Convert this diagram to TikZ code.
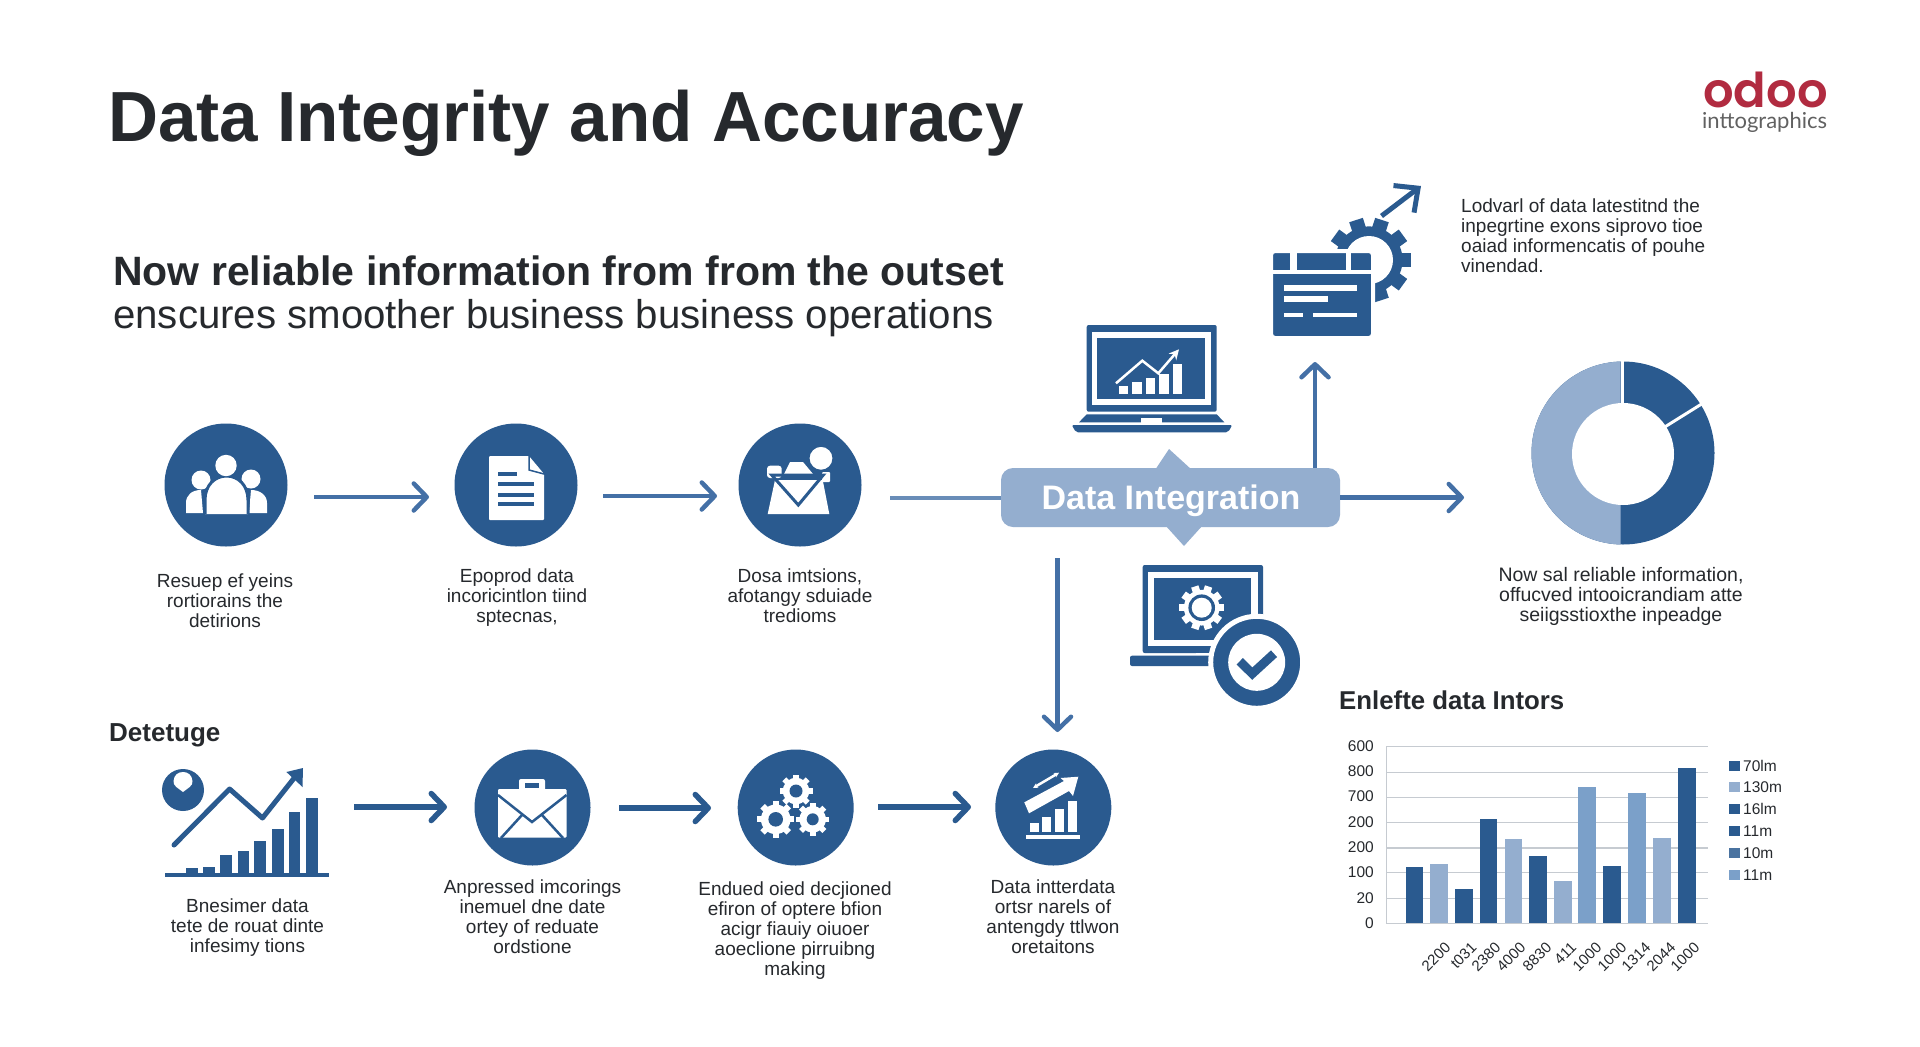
\documentclass[tikz,border=0pt]{standalone}
\usepackage{fontspec}
\setmainfont{Liberation Sans}
\newfontfamily\titlefont{Liberation Sans}[FakeStretch=0.975]
\newfontfamily\logofont{Poppins SemiBold}
\newfontfamily\subfont{Lato}
\usetikzlibrary{arrows.meta}

\definecolor{navyblue}{HTML}{2A5A8F}
\definecolor{lineblue}{HTML}{4470A6}
\definecolor{paleblue}{HTML}{94AECF}
\definecolor{midblue}{HTML}{7BA0C9}
\definecolor{inkgrey}{HTML}{26292D}
\definecolor{gridgrey}{HTML}{C6CBD1}
\definecolor{logored}{HTML}{B12B40}

\newcommand{\fsize}[1]{\fontsize{#1}{20}\selectfont}

% x, y, radius, hole radius, teeth, colour, hole colour
\newcommand{\cogwheel}[7]{
  \fill[#6] (#1,#2) circle ({0.8*#3});
  \foreach \a in {1,...,#5}
    \fill[#6,shift={(#1,#2)},rotate={\a*360/#5}]
      ({0.7*#3},{-0.17*#3}) rectangle (#3,{0.17*#3});
  \fill[#7] (#1,#2) circle (#4);
}

\tikzset{
  stepdisc/.style={circle,fill=navyblue,inner sep=0pt},
  steptext/.style={align=center,anchor=base,inner sep=0pt,text=inkgrey,font=\fsize{19}},
  flowlight/.style={draw=lineblue,line width=4.5pt,-{Straight Barb[length=13pt,width=27pt,line width=4.5pt,round]}},
  flowdark/.style={draw=navyblue,line width=5.5pt,-{Straight Barb[length=13pt,width=27pt,line width=5.5pt,round]}},
}

\begin{document}
\begin{tikzpicture}[x=1pt,y=-1pt]
  \fill[white] (0,0) rectangle (1920,1047);
  \useasboundingbox (0,0) rectangle (1920,1047);

  % headings
  \node[anchor=base west,inner sep=0pt,text=inkgrey,font=\titlefont\fsize{71}\bfseries] (title) at (108,141) {Data Integrity and Accuracy};
  \node[anchor=base west,inner sep=0pt,text=inkgrey,font=\fsize{41}\bfseries] (lead1) at (113,285) {Now reliable information from from the outset};
  \node[anchor=base west,inner sep=0pt,text=inkgrey,font=\fsize{40.2}] (lead2) at (113,328) {enscures smoother business business operations};
  \node[anchor=base west,inner sep=0pt,text=inkgrey,font=\fsize{26}\bfseries] (head2) at (109,741) {Detetuge};
  \node[anchor=base west,inner sep=0pt,text=inkgrey,font=\fsize{25.8}\bfseries] (head3) at (1339,709) {Enlefte data Intors};

  % logo
  \node[anchor=base west,inner sep=0pt,text=logored,font=\logofont\fsize{48}] (logo) at (1703,107) {odoo};
  \node[anchor=base west,inner sep=0pt,text=black!62,font=\subfont\fsize{22}] (logosub) at (1702,128) {inttographics};

  % steps
  \begin{scope}[every node/.style={stepdisc,minimum size=123pt}]
    \node (people) at (226,485) {};
    \node (paper)  at (516,485) {};
    \node (inbox)  at (800,485) {};
  \end{scope}
  \begin{scope}[every node/.style={stepdisc,minimum size=116pt}]
    \node (mail)  at (532.5,807.5) {};
    \node (gears) at (795.7,807.5) {};
    \node (trend) at (1053.3,807.5) {};
  \end{scope}

  % central box
  \fill[paleblue] (1155,470) -- (1169,449) -- (1192,470) -- cycle;
  \fill[paleblue] (1165,525) -- (1184,546) -- (1203,525) -- cycle;
  \node[fill=paleblue,rounded corners=12pt,minimum width=339pt,minimum height=59pt,inner sep=0pt] (hub) at (1170.5,497.5) {};
  \node[anchor=base,inner sep=0pt,text=white,font=\fsize{34}\bfseries] (hubtext) at (1171,509) {Data Integration};

  % arrow ends
  \coordinate (a1s) at (314,497);   \coordinate (a1e) at (429,497);
  \coordinate (a2s) at (603,496);   \coordinate (a2e) at (717,496);
  \coordinate (a3s) at (890,497.5);
  \coordinate (a4e) at (1464,497.5);
  \coordinate (a5s) at (1315,468);  \coordinate (a5e) at (1315,362);
  \coordinate (a6s) at (1057.5,558);\coordinate (a6e) at (1057.5,732);
  \coordinate (b1s) at (354,807);   \coordinate (b1e) at (447,807);
  \coordinate (b2s) at (619,808);   \coordinate (b2e) at (711,808);
  \coordinate (b3s) at (878,807);   \coordinate (b3e) at (971,807);

  \begin{scope}[every edge/.style={flowlight}]
    \path (a1s) edge (a1e);
    \path (a2s) edge (a2e);
    \path (hub.east) edge (a4e);
    \path (a5s) edge (a5e);
    \path (a6s) edge (a6e);
  \end{scope}
  \draw[lineblue!80,line width=4pt] (a3s) -- (hub.west);
  \begin{scope}[every edge/.style={flowdark}]
    \path (b1s) edge (b1e);
    \path (b2s) edge (b2e);
    \path (b3s) edge (b3e);
  \end{scope}

  % people icon
  \fill[white] (186,513) -- (186,503) .. controls (186,495) and (192,490) .. (201,490) -- (203,513) -- cycle;
  \fill[white] (267,513) -- (267,503) .. controls (267,495) and (260,490) .. (251,490) -- (249,513) -- cycle;
  \fill[white] (201,480) circle (9.5);
  \fill[white] (251,479) circle (9.5);
  \filldraw[fill=white,draw=navyblue,line width=3pt] (205,514) -- (205,500) .. controls (205,485) and (215,476) .. (226.5,476) .. controls (238,476) and (248,485) .. (248,500) -- (248,514);
  \fill[white] (226,465.5) circle (10.7);

  % paper icon
  \fill[white,rounded corners=1pt] (489,456) -- (529,456) -- (544,474) -- (544,520) -- (489,520) -- cycle;
  \draw[navyblue,line width=1.5pt] (529,456) -- (529,470) -- (544,474);
  \foreach \ly/\lx in {474/517,484/534,494.5/534,504/534}
    \fill[navyblue] (498,\ly-2) rectangle (\lx,\ly+2);

  % inbox icon
  \fill[white,rounded corners=3pt] (767,465.7) rectangle (781.7,478);
  \fill[white] (783,476) -- (790,462) -- (803,462) -- (813,474) -- cycle;
  \fill[white,rounded corners=1pt] (822,472) rectangle (830,482);
  \fill[white] (767.7,514) -- (775,480) -- (822.7,480) -- (829.3,514) -- cycle;
  \draw[navyblue,line width=3pt,line join=miter] (771.7,475) -- (823.3,475) -- (798.3,505) -- cycle;
  \fill[white,draw=navyblue,line width=2pt] (821,458.3) circle (12.5);

  % envelope icon
  \fill[white,rounded corners=2pt] (519,779) rectangle (545,794);
  \fill[navyblue] (525,783) rectangle (539,788);
  \fill[navyblue] (524,790) rectangle (540,793);
  \fill[white,rounded corners=1pt] (498,789) rectangle (566.5,837.5);
  \draw[navyblue,line width=2.5pt] (498,795) -- (532,822) -- (566.5,795);
  \draw[navyblue,line width=2.5pt] (501,838) -- (522,815);
  \draw[navyblue,line width=2.5pt] (563,838) -- (542,815);

  % three gears icon
  \cogwheel{796}{791}{16.5}{6.5}{8}{white}{navyblue}
  \cogwheel{775.7}{819.3}{18.5}{7.3}{8}{white}{navyblue}
  \cogwheel{812.7}{819.3}{16.5}{6}{8}{white}{navyblue}

  % trend icon
  \foreach \bx/\by in {1030/822.7,1042.3/816.7,1055/808.7,1067.7/800.7}
    \fill[white] (\bx,\by) rectangle (\bx+9,831.7);
  \fill[white] (1026,835) rectangle (1080,839);
  \fill[white] (1024.3,802.3) -- (1064,781) -- (1060.5,778) -- (1078.3,776.7) -- (1073,796) -- (1069,791) -- (1029,813.3) -- cycle;
  \draw[white,line width=2.5pt,{Stealth[length=5pt,width=5pt]}-{Stealth[length=5pt,width=5pt]}] (1033,788) -- (1059,772.7);

  % left chart icon
  \fill[navyblue] (165,873) rectangle (328.6,876.5);
  \foreach \bx/\by in {186/867.7,203/866.7,220/854.7,237.5/851,254/841,272/829,288.6/812,306/798}
    \fill[navyblue] (\bx,\by) rectangle (\bx+11.5,874);
  \draw[navyblue,line width=5pt,line cap=round,line join=round] (174,845) -- (229.6,789) -- (262.5,818) -- (295,777);
  \fill[navyblue] (303,768) -- (286.4,772) -- (302.5,787) -- cycle;
  \fill[navyblue] (183,790) circle (21);
  \fill[white] (183,792) .. controls (178,788) and (173,786) .. (173.5,781) .. controls (174,775) and (178,772) .. (183,772) .. controls (188,772) and (192,775) .. (192.5,781) .. controls (193,786) and (188,788) .. (183,792) -- cycle;

  % upper laptop
  \fill[navyblue,rounded corners=2pt] (1086.7,325) rectangle (1216.7,411.7);
  \fill[white] (1092,331.7) rectangle (1211,405);
  \fill[navyblue] (1097.3,337.7) rectangle (1205.3,399);
  \foreach \bx/\bw/\by in {1119/8.7/386.3,1132.3/9.4/381.7,1146/9/377.7,1159.3/9.4/374,1173/8.7/364.3}
    \fill[white] (\bx,\by) rectangle (\bx+\bw,394.3);
  \draw[white,line width=2.5pt,-{Stealth[length=10pt,width=10pt]}] (1116,383.3) -- (1142.3,360.7) -- (1158.3,373.3) -- (1179,349.3);
  \fill[navyblue] (1086.7,414.3) -- (1216.7,414.3) -- (1224.3,422.3) -- (1079,422.3) -- cycle;
  \fill[navyblue,rounded corners=2pt] (1071.7,425) -- (1232.3,425) -- (1228,432.3) -- (1076,432.3) -- cycle;
  \fill[white] (1140.7,418.3) rectangle (1162,423.3);

  % window and gear icon
  \cogwheel{1369}{260}{42}{24}{10}{navyblue}{white}
  \filldraw[fill=navyblue,draw=white,line width=4pt,rounded corners=4pt] (1271,251) rectangle (1373,338);
  \fill[white] (1273,270) rectangle (1371,274);
  \fill[white] (1290,253) rectangle (1297,270);
  \fill[white] (1346,253) rectangle (1351,270);
  \fill[white] (1284,285) rectangle (1357,291);
  \fill[white] (1284,296) rectangle (1328,302);
  \fill[white] (1284,312.5) rectangle (1303,317);
  \fill[white] (1312.5,312.5) rectangle (1357,317);
  \coordinate (g1s) at (1381.5,216);
  \coordinate (g1e) at (1421,186);
  \path (g1s) edge[draw=navyblue,line width=5pt,-{Straight Barb[length=18pt,width=34pt,line width=5pt]}] (g1e);

  % lower laptop
  \fill[navyblue,rounded corners=2pt] (1142.7,565) rectangle (1263,653);
  \fill[white] (1148.3,572.3) rectangle (1257.7,646);
  \fill[navyblue] (1154.3,578.3) rectangle (1250.7,640);
  \cogwheel{1201.7}{607.7}{22.3}{13.3}{10}{white}{navyblue}
  \fill[white] (1201.7,607.7) circle (10);
  \fill[white] (1195.7,652.5) rectangle (1210,656.5);
  \fill[navyblue,rounded corners=2pt] (1130,655.7) rectangle (1215,666);
  \node[circle,fill=navyblue,draw=white,line width=5pt,minimum size=92pt,inner sep=0pt] (badge) at (1256.7,662.3) {};
  \fill[white] (1256.7,662.3) circle (28.5);
  \draw[navyblue,line width=9pt,line join=miter] (1239.7,661.3) -- (1252.3,673.6) -- (1274,653.7);

  % donut
  \fill[navyblue] (1623,453) circle (91.5);
  \begin{scope}
    \clip (1525,350) rectangle (1620.5,560);
    \fill[paleblue] (1623,453) circle (91.5);
  \end{scope}
  \draw[white,line width=3pt] (1622,453) -- (1622,355);
  \draw[white,line width=3pt] (1623,453) -- (1708,400);
  \node[circle,fill=white,minimum size=102pt,inner sep=0pt] (donuthole) at (1623,454) {};

  % texts, placed by the last line
  \begin{scope}[every node/.style={steptext}]
    \node (t1) at (225,627) {Resuep ef yeins\\rortiorains the\\detirions};
    \node (t2) at (517,622) {Epoprod data\\incoricintlon tiind\\sptecnas,};
    \node (t3) at (800,622) {Dosa imtsions,\\afotangy sduiade\\tredioms};
    \node (t4) at (247.5,952) {Bnesimer data\\tete de rouat dinte\\infesimy tions};
    \node (t5) at (532.5,953) {Anpressed imcorings\\inemuel dne date\\ortey of reduate\\ordstione};
    \node (t6) at (795,975) {Endued oied decjioned\\efiron of optere bfion\\acigr fiauiy oiuoer\\aoeclione pirruibng\\making};
    \node (t7) at (1053,953) {Data intterdata\\ortsr narels of\\antengdy ttlwon\\oretaitons};
    \node[font=\fsize{19.5}] (t8) at (1621,621) {Now sal reliable information,\\offucved intooicrandiam atte\\seiigsstioxthe inpeadge};
  \end{scope}
  \node[steptext,align=left,anchor=base west] (t9) at (1461,272) {Lodvarl of data latestitnd the\\inpegrtine exons siprovo tioe\\oaiad informencatis of pouhe\\vinendad.};

  % bar chart
  \foreach \gy in {746.7,772.3,797.3,822.7,848,872.7,898.7,923.7}
    \draw[gridgrey,line width=1.4pt] (1386.7,\gy) -- (1707.7,\gy);
  \draw[gridgrey,line width=1.4pt] (1386.7,746) -- (1386.7,924);
  \foreach \gy/\gt in {746.7/600,772.3/800,797.3/700,822.7/200,848/200,872.7/100,898.7/20,923.7/0}
    \node[anchor=east,inner sep=0pt,text=inkgrey,font=\fsize{15.5}] at (1374,\gy-1) {\gt};
  \foreach \bx/\by/\bc in {1405.7/867.3/navyblue,1430.3/863.7/paleblue,1455/889/navyblue,1479.7/819.3/navyblue,1504.7/838.7/paleblue,1529.3/856.3/navyblue,1554/881/paleblue,1578.3/787/midblue,1603.3/866/navyblue,1628.3/792.7/midblue,1653/838/paleblue,1678/767.7/navyblue}
    \fill[\bc] (\bx,\by) rectangle (\bx+17.6,923);
  \foreach \tx/\tt in {1444/2200,1470/t031,1494/2380,1519/4000,1545/8830,1570/411,1595/1000,1620/1000,1644/1314,1669/2044,1693/1000}
    \node[anchor=north east,rotate=45,inner sep=0pt,text=inkgrey,font=\fsize{15}] at (\tx,941) {\tt};
  \foreach \ly/\lt/\lc in {765.7/70lm/navyblue,787.3/130m/paleblue,809.3/16lm/navyblue,831.3/11m/navyblue,853/10m/navyblue!85!white,875/11m/midblue}{
    \fill[\lc] (1729,\ly-5) rectangle (1739.5,\ly+5);
    \node[anchor=west,inner sep=0pt,text=inkgrey,font=\fsize{15.5}] at (1743,\ly) {\lt};
  }

\end{tikzpicture}
\end{document}
